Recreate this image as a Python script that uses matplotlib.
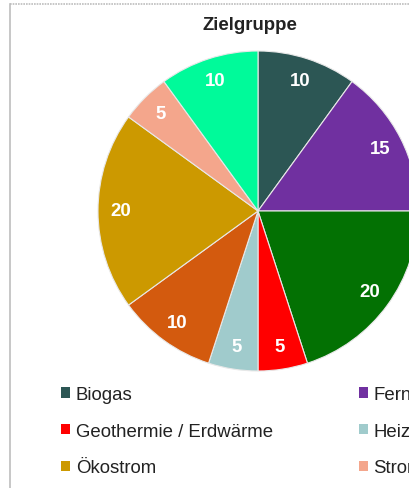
import matplotlib
matplotlib.use("Agg")
import matplotlib.pyplot as plt
from matplotlib.lines import Line2D
from matplotlib.patches import Patch

plt.rcParams['font.family'] = ['Liberation Sans', 'DejaVu Sans']

# data (pie runs clockwise from 12 o'clock)
labels = ["Biogas", "Fernwärme", "Gas", "Geothermie / Erdwärme", "Heizöl",
          "Holz / Pellets", "Ökostrom", "Strom", "Wärmepumpe"]
values = [10, 15, 20, 5, 5, 10, 20, 5, 10]
colors = ["#2C5654", "#7030A0", "#037103", "#FF0000", "#A0CBCC",
          "#D35A0E", "#CC9900", "#F4A68C", "#00FA9A"]

W, H = 410, 489
fig = plt.figure(figsize=(W / 100, H / 100), dpi=100)

# pie axes: centre (258, 212) px, radius 160 px
cx, cy, r = 258, 212, 160
ax = fig.add_axes([(cx - r) / W, (H - cy - r) / H, 2 * r / W, 2 * r / H])
total = sum(values)
wedges, _, autotexts = ax.pie(
    values, colors=colors, startangle=90, counterclock=False,
    autopct=lambda p: f"{round(p * total / 100):.0f}", pctdistance=0.86,
    wedgeprops=dict(edgecolor="#E8E8E8", linewidth=0.8),
    textprops=dict(color="white", fontsize=13.4, fontweight="bold"))
ax.set_xlim(-1, 1)
ax.set_ylim(-1, 1)
ax.set_aspect("equal")
ax.axis("off")

fig.text(250 / W, 1 - 25 / H, "Zielgruppe", ha="center", va="center",
         fontsize=13.4, fontweight="bold", color="#222222")

# legend laid out row by row, 3 columns (third runs off the right edge)
handles = [Patch(facecolor=c, edgecolor="none") for c in colors]
order = [0, 3, 6, 1, 4, 7, 2, 5, 8]
fig.legend([handles[i] for i in order], [labels[i] for i in order],
           ncol=3, loc="upper left", bbox_to_anchor=(61 / W, 1 - 387 / H),
           frameon=False, fontsize=13.4, handlelength=0.5, handleheight=0.5,
           handletextpad=0.3, columnspacing=4.6, labelspacing=1.06,
           borderpad=0, borderaxespad=0, labelcolor="#222222")

# chart frame
fig.add_artist(Line2D([10 / W, 10 / W], [0, 1 - 5 / H], color="#BDBDBD", lw=1.2))
fig.add_artist(Line2D([10 / W, 1], [1 - 5 / H, 1 - 5 / H], color="#BDBDBD",
                      lw=1.2, linestyle=(0, (1, 0.6))))

fig.savefig("out.png", dpi=100)
